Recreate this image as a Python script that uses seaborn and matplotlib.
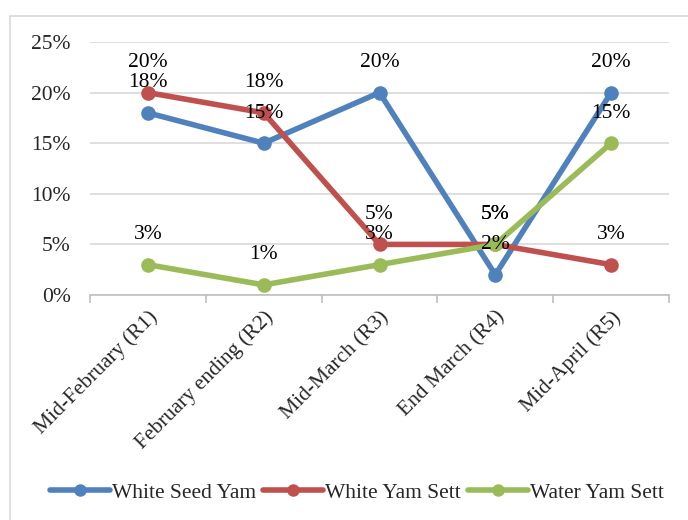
import numpy as np
import pandas as pd
import matplotlib
matplotlib.use('Agg')
import matplotlib.pyplot as plt
import seaborn as sns
from matplotlib.patches import Rectangle
from matplotlib.ticker import PercentFormatter, FixedLocator

sns.set_theme(style='white')
plt.rcParams['font.family'] = ['Liberation Serif', 'DejaVu Serif']

# 数据
categories = ['Mid-February (R1)', 'February ending (R2)', 'Mid-March (R3)',
              'End March (R4)', 'Mid-April (R5)']
white_seed_yam = [0.18, 0.15, 0.20, 0.02, 0.20]
white_yam_sett = [0.20, 0.18, 0.05, 0.05, 0.03]
water_yam_sett = [0.03, 0.01, 0.03, 0.05, 0.15]
series_names = ['White Seed Yam', 'White Yam Sett', 'Water Yam Sett']
colors = ['#4F81BD', '#C0504D', '#9BBB59']

df = pd.DataFrame({
    'Period': categories * 3,
    'Value': white_seed_yam + white_yam_sett + water_yam_sett,
    'Series': np.repeat(series_names, len(categories)),
})

fig = plt.figure(figsize=(6.88, 5.2), dpi=100)
# 图表外框
fig.patches.append(Rectangle((10 / 688, -0.1), 1.2, 1 - 16 / 520 + 0.1,
                             transform=fig.transFigure, fill=False,
                             edgecolor='#D9D9D9', linewidth=1.2))
ax = fig.add_axes([90 / 688, 1 - 295 / 520, (669 - 90) / 688, (295 - 42) / 520])

sns.lineplot(data=df, x='Period', y='Value', hue='Series', palette=colors,
             marker='o', markersize=10.5, markeredgewidth=0, linewidth=4,
             sort=False, ax=ax, legend=False)

# 数据标签
fs = 15.5
for vals in [white_seed_yam, white_yam_sett, water_yam_sett]:
    for i, v in enumerate(vals):
        ax.annotate(f'{v * 100:.0f}%', (i, v), xytext=(0, 30),
                    textcoords='offset pixels', ha='center', va='center',
                    fontsize=fs, color='black')

ax.set_xlim(-0.5, len(categories) - 0.5)
ax.set_ylim(0, 0.25)
ax.yaxis.set_major_locator(FixedLocator(np.arange(0, 0.26, 0.05)))
ax.yaxis.set_major_formatter(PercentFormatter(1.0, decimals=0))
ax.grid(axis='y', color='#D9D9D9', linewidth=1.2)
ax.set_axisbelow(True)
for s in ['top', 'right', 'left']:
    ax.spines[s].set_visible(False)
ax.spines['bottom'].set_color('#BFBFBF')
ax.spines['bottom'].set_linewidth(1.2)

ax.set_xticks(range(len(categories)))
ax.set_xticklabels(categories, rotation=45, ha='right', rotation_mode='anchor',
                   fontsize=fs)
ax.tick_params(axis='x', which='major', length=0, pad=9)
ax.set_xticks(np.arange(-0.5, len(categories)), minor=True)
ax.tick_params(axis='x', which='minor', length=6, color='#BFBFBF', width=1.2,
               bottom=True)
ax.tick_params(axis='y', length=0, labelsize=fs, pad=14)
ax.set_xlabel('')
ax.set_ylabel('')

# 图例
handles = [plt.Line2D([], [], color=c, linewidth=4, marker='o', markersize=9,
                      markeredgewidth=0) for c in colors]
fig.legend(handles, series_names, loc='center', bbox_to_anchor=(357 / 688, 1 - 493 / 520),
           ncol=3, frameon=False, fontsize=fs, handlelength=2.8,
           handletextpad=0.1, columnspacing=0.3)

fig.savefig('out.png', dpi=100)
